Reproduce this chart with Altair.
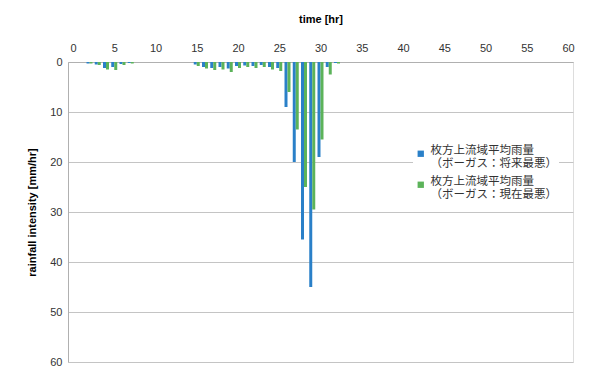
import altair as alt
import pandas as pd

hours = [2, 3, 4, 5, 6, 7, 15, 16, 17, 18, 19, 20, 21, 22, 23, 24, 25, 26, 27, 28, 29, 30, 31, 32]
future_worst = [0.3, 0.5, 1.2, 1.0, 0.4, 0.2, 0.5, 1.0, 1.2, 1.0, 1.3, 0.8, 0.7, 0.8, 0.6, 1.0, 1.2, 9.0, 20.0, 35.5, 45.0, 19.0, 1.0, 0.2]
current_worst = [0.3, 0.6, 1.5, 1.6, 0.6, 0.3, 0.8, 1.3, 1.6, 1.5, 2.0, 1.2, 1.0, 1.2, 1.0, 1.5, 1.8, 6.0, 13.5, 25.0, 29.5, 15.5, 2.5, 0.3]
series_names = ["枚方上流域平均雨量\n（ボーガス：将来最悪）", "枚方上流域平均雨量\n（ボーガス：現在最悪）"]
series_colors = ["#2a80c8", "#5cb35a"]
x_ticks = list(range(0, 61, 5))
y_ticks = list(range(0, 61, 10))

df = pd.DataFrame({
    "time": hours * 2,
    "rain": future_worst + current_worst,
    "series": [series_names[0]] * len(hours) + [series_names[1]] * len(hours),
})

color = alt.Color(
    "series:N",
    scale=alt.Scale(domain=series_names, range=series_colors),
    legend=alt.Legend(
        title=None,
        orient="none",
        legendX=345,
        legendY=84,
        symbolType="square",
        symbolSize=40,
        symbolStrokeWidth=0,
        labelFont="Noto Sans CJK JP",
        labelFontSize=11.5,
        labelColor="#333333",
        labelLimit=300,
        labelBaseline="alphabetic",
        labelExpr="split(datum.label, '\\n')",
        rowPadding=5,
        fillColor="white",
        padding=2,
    ),
)

x = alt.X(
    "time:Q",
    scale=alt.Scale(domain=[0, 60], nice=False),
    axis=alt.Axis(
        orient="top",
        values=x_ticks,
        title="time [hr]",
        titleFontWeight="bold",
        titleFontSize=11,
        titleFont="Liberation Sans",
        titlePadding=18,
        labelFont="Liberation Sans",
        labelFontSize=11,
        labelColor="#333333",
        labelPadding=9,
        ticks=False,
        grid=False,
        domainColor="#b0b0b0",
    ),
)
y = alt.Y(
    "rain:Q",
    scale=alt.Scale(domain=[0, 60], reverse=True, nice=False),
    axis=alt.Axis(
        values=y_ticks,
        title="rainfall intensity [mm/hr]",
        titleFontWeight="bold",
        titleFontSize=11,
        titleFont="Liberation Sans",
        titlePadding=12,
        labelFont="Liberation Sans",
        labelFontSize=11,
        labelColor="#333333",
        labelPadding=6,
        ticks=False,
        grid=True,
        gridColor="#c4c4c4",
        domainColor="#b0b0b0",
    ),
)

base = alt.Chart(df)
blue = base.transform_filter(alt.datum.series == series_names[0]).mark_bar(size=3, xOffset=-1.5).encode(x=x, y=y, color=color)
green = base.transform_filter(alt.datum.series == series_names[1]).mark_bar(size=3, xOffset=1.5).encode(x=x, y=y, color=color)

chart = alt.layer(blue, green).properties(
    width=505,
    height=300,
    autosize=alt.AutoSizeParams(type="none"),
    padding={"left": 60, "top": 54, "right": 10, "bottom": 4},
).configure_view(stroke="#b9d4ea", strokeWidth=1).configure(background="white")

chart.save("out.html", embed_options={"renderer": "svg", "actions": False})
